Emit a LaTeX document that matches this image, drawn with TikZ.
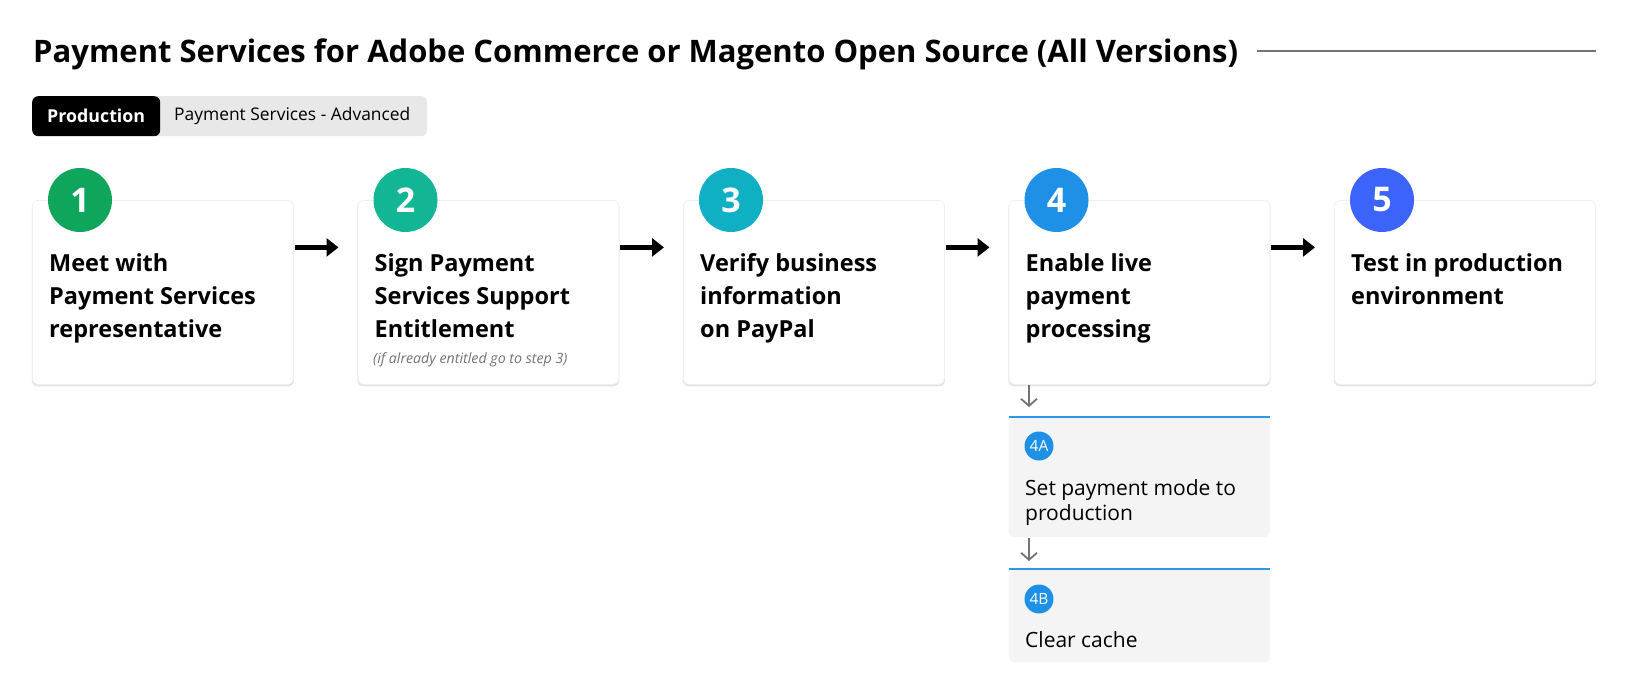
\documentclass[tikz,border=0pt]{standalone}
\usepackage{fontspec}
\setmainfont{Open Sans}
\usetikzlibrary{shadows,arrows.meta}
\definecolor{cone}{RGB}{15,165,90}
\definecolor{ctwo}{RGB}{18,181,148}
\definecolor{cthree}{RGB}{16,176,196}
\definecolor{cfour}{RGB}{30,145,230}
\definecolor{cfive}{RGB}{60,100,250}
\definecolor{subfill}{RGB}{244,244,244}
\definecolor{tagfill}{RGB}{232,232,232}
\definecolor{subline}{RGB}{45,150,230}
\begin{document}
\begin{tikzpicture}[x=1pt,y=-1pt,
  card/.style={draw=black!6,line width=0.8pt,fill=white,rounded corners=6pt,minimum width=261pt,minimum height=184pt,anchor=north west,inner sep=0pt,
    drop shadow={shadow xshift=0pt,shadow yshift=-1.5pt,shadow scale=1.004,opacity=0.16,fill=black!70}},
  num/.style={circle,minimum size=64pt,inner sep=0pt,text=white,font=\bfseries\fontsize{34}{34}\selectfont},
  steptext/.style={anchor=base west,align=left,inner sep=0pt,font=\bfseries\fontsize{23.5}{33}\selectfont},
  subtext/.style={anchor=base west,align=left,inner sep=0pt,font=\fontsize{21}{25}\selectfont},
  smallnum/.style={circle,fill=cfour,minimum size=29pt,inner sep=0pt,text=white,font=\fontsize{15.5}{15.5}\selectfont},
  flow/.style={-{Triangle[length=12pt,width=18pt]},line width=5pt,black,shorten >=19pt,shorten <=1pt},
  down/.style={-{Straight Barb[length=7pt,width=16pt]},line width=1.8pt,black!55},
  subbox/.style={fill=subfill,draw=none,minimum width=261pt,anchor=north west,inner sep=0pt}
]
\useasboundingbox[fill=white] (0,0) rectangle (1628,696);
% title
\node[anchor=base west,inner sep=0pt,font=\bfseries\fontsize{31}{31}\selectfont] (title) at (33,62) {Payment Services for Adobe Commerce or Magento Open Source (All Versions)};
\coordinate (lineend) at (1596,51);
\draw[black!55,line width=2pt] (title.east |- lineend) ++(19,0) coordinate (linestart) -- (lineend);
% tags
\node[fill=tagfill,rounded corners=6pt,anchor=north west,minimum width=277pt,minimum height=40pt,inner sep=0pt] (tagbg) at (150,96) {};
\node[fill=black,rounded corners=6pt,anchor=north west,minimum width=128pt,minimum height=40pt,inner sep=0pt,text=white,font=\bfseries\fontsize{17.8}{17.8}\selectfont] (prod) at (32,96) {Production};
\node[anchor=west,inner sep=0pt,font=\fontsize{17.4}{17.4}\selectfont] (adv) at (174,116) {Payment Services - Advanced};
% cards
\node[card] (b1) at (32,200) {};
\node[card] (b2) at (357.5,200) {};
\node[card] (b3) at (683,200) {};
\node[card] (b4) at (1008.5,200) {};
\node[card] (b5) at (1334,200) {};
% circles
\node[num,fill=cone] (n1) at (80,200) {1};
\node[num,fill=ctwo] (n2) at (405.5,200) {2};
\node[num,fill=cthree] (n3) at (731,200) {3};
\node[num,fill=cfour] (n4) at (1056.5,200) {4};
\node[num,fill=cfive] (n5) at (1382,200) {5};
% texts (anchored at the baseline of the last line)
\node[steptext] (t1) at (49,337) {Meet with\\Payment Services\\representative};
\node[steptext] (t2) at (374.5,337) {Sign Payment\\Services Support\\Entitlement};
\node[anchor=base west,inner sep=0pt,text=black!55,font=\itshape\fontsize{14.2}{14.2}\selectfont] (note) at (373,363) {(if already entitled go to step 3)};
\node[steptext] (t3) at (700,337) {Verify business\\information\\on PayPal};
\node[steptext] (t4) at (1025.5,337) {Enable live\\payment\\processing};
\node[steptext] (t5) at (1351,304) {Test in production\\environment};
% flow arrows
\foreach \a/\b in {b1/b2,b2/b3,b3/b4,b4/b5}{
  \draw[flow] ([yshift=45pt]\a.east) -- ([yshift=45pt]\b.west);
}
% sub steps
\node[subbox,minimum height=120pt,rounded corners=6pt] (s4a) at (1008.5,417) {};
\node[subbox,minimum height=20pt] at (1008.5,417) {};
\draw[subline,line width=2pt] (s4a.north west) -- (s4a.north east);
\node[subbox,minimum height=93pt,rounded corners=6pt] (s4b) at (1008.5,569) {};
\node[subbox,minimum height=20pt] at (1008.5,569) {};
\draw[subline,line width=2pt] (s4b.north west) -- (s4b.north east);
\node[smallnum] (n4a) at (1039,446) {4A};
\node[smallnum] (n4b) at (1039,599) {4B};
\node[subtext] (t4a) at (1025,520) {Set payment mode to\\production};
\node[subtext] (t4b) at (1025,647) {Clear cache};
\coordinate (d1s) at (1029,385);
\coordinate (d2s) at (1029,538);
\draw[down] (d1s) -- ([yshift=10pt]s4a.north west -| d1s);
\draw[down] (d2s) -- ([yshift=8pt]s4b.north west -| d2s);
\end{tikzpicture}
\end{document}
